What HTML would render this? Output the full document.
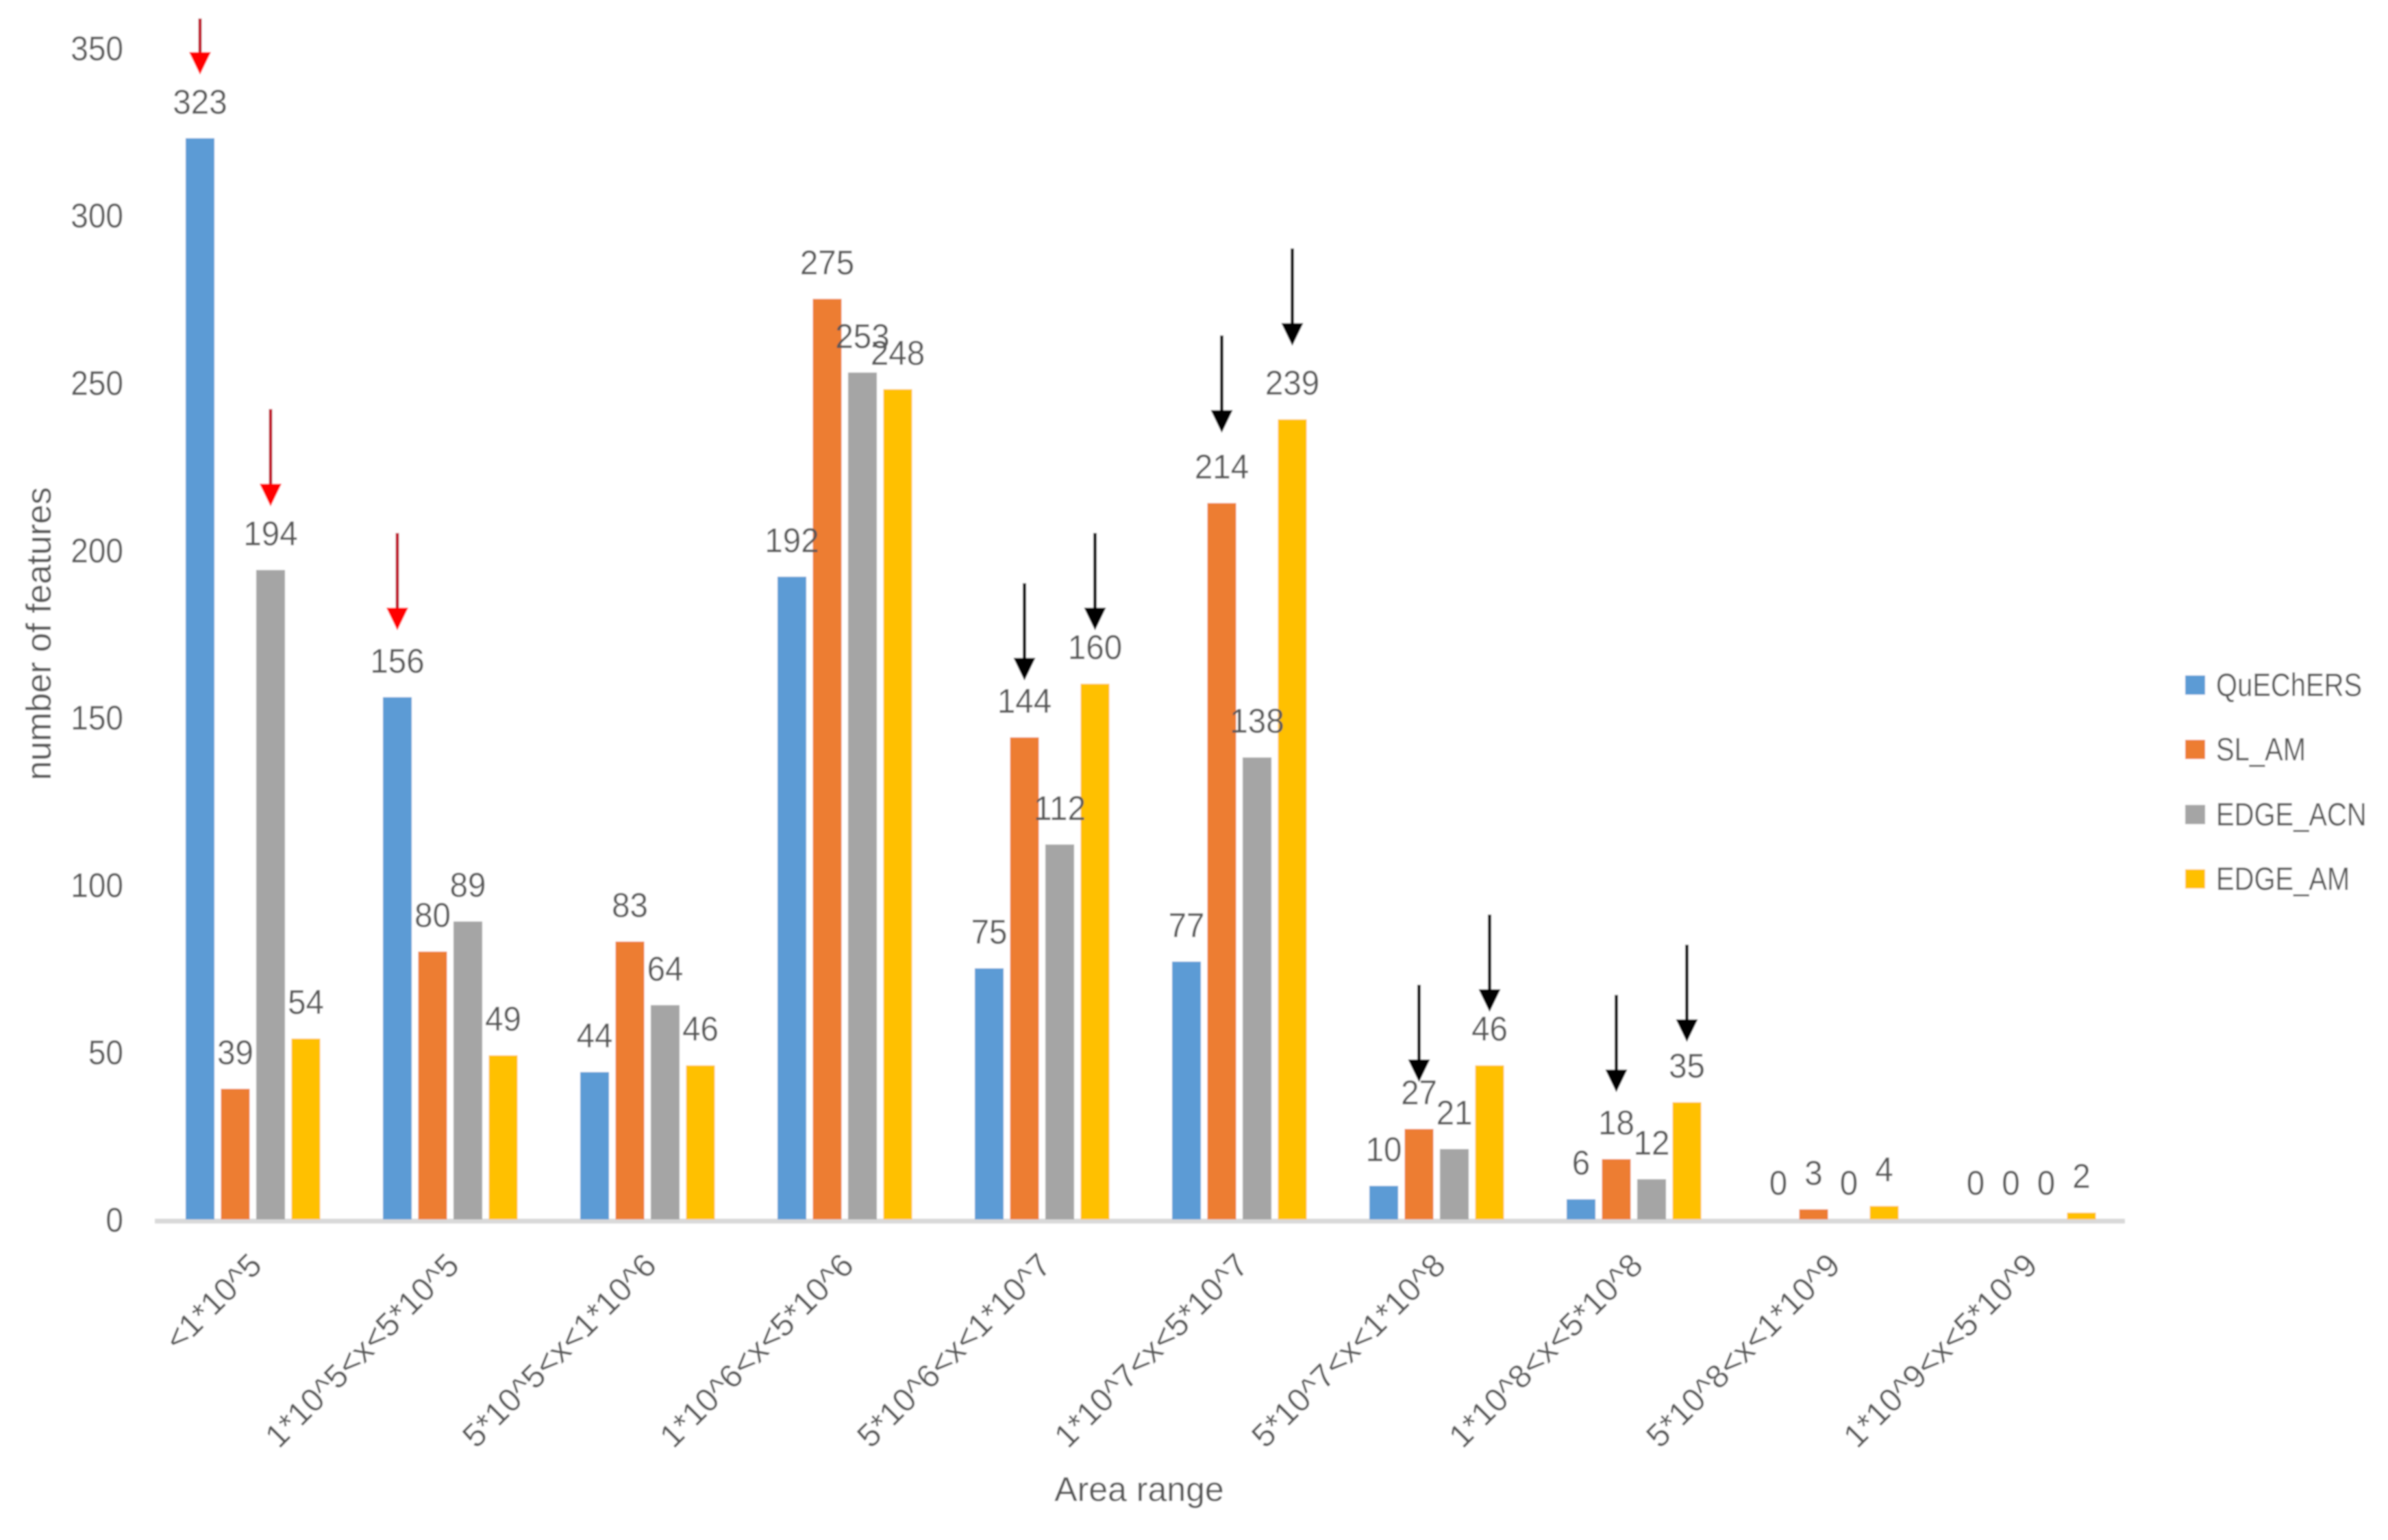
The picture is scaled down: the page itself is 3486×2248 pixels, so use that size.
<!DOCTYPE html>
<html lang="en">
<head>
<meta charset="utf-8">
<title>Number of features by area range</title>
<style>
html,body{margin:0;padding:0;background:#fff;width:3486px;height:2248px;overflow:hidden}
svg{display:block}
text{font-family:"Liberation Sans",sans-serif;fill:#595959}
</style>
</head>
<body>
<svg id="chart" xmlns="http://www.w3.org/2000/svg" width="3486" height="2248" viewBox="0 0 3486 2248">
  <defs>
    <filter id="soft" x="0" y="0" width="1" height="1" filterUnits="objectBoundingBox"><feGaussianBlur stdDeviation="1.1"/></filter>
  </defs>
  <rect x="0" y="0" width="3486" height="2248" fill="#ffffff"/>
  <g id="plot" filter="url(#soft)">
    <rect x="0" y="0" width="3486" height="2248" fill="#ffffff"/>
    <rect x="226" y="1779" width="2876" height="7" fill="#d9d9d9"/>
    <g id="yticks"></g>
    <g id="bars"></g>
    <g id="values"></g>
    <g id="xticks"></g>
    <g id="arrows"></g>
    <text transform="translate(74,925) rotate(-90)" font-size="51" text-anchor="middle">number of features</text>
    <text x="1663" y="2191" font-size="50" text-anchor="middle">Area range</text>
    <g>
      <g>
        <rect x="3190" y="986" width="29" height="28" fill="#5B9BD5"/>
        <text transform="translate(3235,1016) scale(.85,1)" font-size="47">QuEChERS</text>
      </g>
      <g>
        <rect x="3190" y="1080" width="29" height="28" fill="#ED7D31"/>
        <text transform="translate(3235,1110) scale(.85,1)" font-size="47">SL_AM</text>
      </g>
      <g>
        <rect x="3190" y="1175" width="29" height="28" fill="#A5A5A5"/>
        <text transform="translate(3235,1205) scale(.85,1)" font-size="47">EDGE_ACN</text>
      </g>
      <g>
        <rect x="3190" y="1269" width="29" height="28" fill="#FFC000"/>
        <text transform="translate(3235,1299) scale(.85,1)" font-size="47">EDGE_AM</text>
      </g>
    </g>
  </g>
</svg>
<script>
const categories = ["<1*10^5","1*10^5<x<5*10^5","5*10^5<x<1*10^6","1*10^6<x<5*10^6","5*10^6<x<1*10^7","1*10^7<x<5*10^7","5*10^7<x<1*10^8","1*10^8<x<5*10^8","5*10^8<x<1*10^9","1*10^9<x<5*10^9"];
const quechers = [323,156,44,192,75,77,10,6,0,0];
const slAm = [39,80,83,275,144,214,27,18,3,0];
const edgeAcn = [194,89,64,253,112,138,21,12,0,0];
const edgeAm = [54,49,46,248,160,239,46,35,4,2];
const yTicks = [0,50,100,150,200,250,300,350];
const seriesNames = ["quechers","sl-am","edge-acn","edge-am"];
const seriesColors = ["#5B9BD5","#ED7D31","#A5A5A5","#FFC000"];
/* annotation arrows: which bar they point at, and how far above it in value units */
const redArrowCategory = [0,0,1];
const redArrowSeries = [0,2,0];
const redArrowLift = [19,19,20];
const blackArrowCategory = [4,4,5,5,6,6,7,7];
const blackArrowSeries = [1,3,1,3,1,3,1,3];
const blackArrowLift = [17,16,21,22,14,16,20,18];

const allSeries = [quechers, slAm, edgeAcn, edgeAm];
const NS = "http://www.w3.org/2000/svg";
const Y0 = 1780, PX_PER_UNIT = 4.886;
const X0 = 271, GROUP_STEP = 288, BAR_STEP = 51.5, BAR_W = 42;
const yScale = v => Y0 - v * PX_PER_UNIT;
const barLeft = (c, s) => X0 + c * GROUP_STEP + s * BAR_STEP;
const barCenter = (c, s) => barLeft(c, s) + BAR_W / 2;

function mk(tag, attrs, parent) {
  const el = document.createElementNS(NS, tag);
  for (const k in attrs) el.setAttribute(k, attrs[k]);
  parent.appendChild(el);
  return el;
}

const yTickGroup = document.getElementById("yticks");
yTicks.forEach(t => {
  const el = mk("text", {transform: "translate(180," + (yScale(t) + 18) + ") scale(.92,1)", "font-size": 50, "text-anchor": "end"}, yTickGroup);
  
  
  el.textContent = String(t);
});

const barGroup = document.getElementById("bars");
const valueGroup = document.getElementById("values");
allSeries.forEach((vals, s) => {
  vals.forEach((v, c) => {
    const top = yScale(v);
    const bar = mk("rect", {x: barLeft(c, s), y: top, width: BAR_W, height: Math.max(0, 1780 - top), fill: seriesColors[s]}, barGroup);
    
    
    const lab = mk("text", {transform: "translate(" + barCenter(c, s) + "," + (top - 36) + ") scale(.95,1)", "font-size": 50, "text-anchor": "middle"}, valueGroup);
    
    
    lab.textContent = String(v);
  });
});

const xTickGroup = document.getElementById("xticks");
categories.forEach((cat, c) => {
  const x = X0 + c * GROUP_STEP + 114;
  const el = mk("text", {transform: "translate(" + x + ",1850) rotate(-45)", "font-size": 48, "text-anchor": "end"}, xTickGroup);
  
  
  el.textContent = cat;
});

const arrowGroup = document.getElementById("arrows");
function drawArrow(c, s, lift, lineColor, headColor) {
  const x = barCenter(c, s);
  const tip = yScale(allSeries[s][c] + lift);
  const line = mk("line", {x1: x, x2: x, y1: Math.max(27, tip - 142), y2: tip - 28, stroke: lineColor, "stroke-width": 5}, arrowGroup);
  
  
  const head = mk("polygon", {points: (x - 16) + "," + (tip - 33) + " " + (x + 16) + "," + (tip - 33) + " " + x + "," + tip, fill: headColor}, arrowGroup);
  
  
}
redArrowCategory.forEach((c, i) => drawArrow(c, redArrowSeries[i], redArrowLift[i], "#c00020", "#ff0000"));
blackArrowCategory.forEach((c, i) => drawArrow(c, blackArrowSeries[i], blackArrowLift[i], "#000000", "#000000"));
</script>
</body>
</html>
